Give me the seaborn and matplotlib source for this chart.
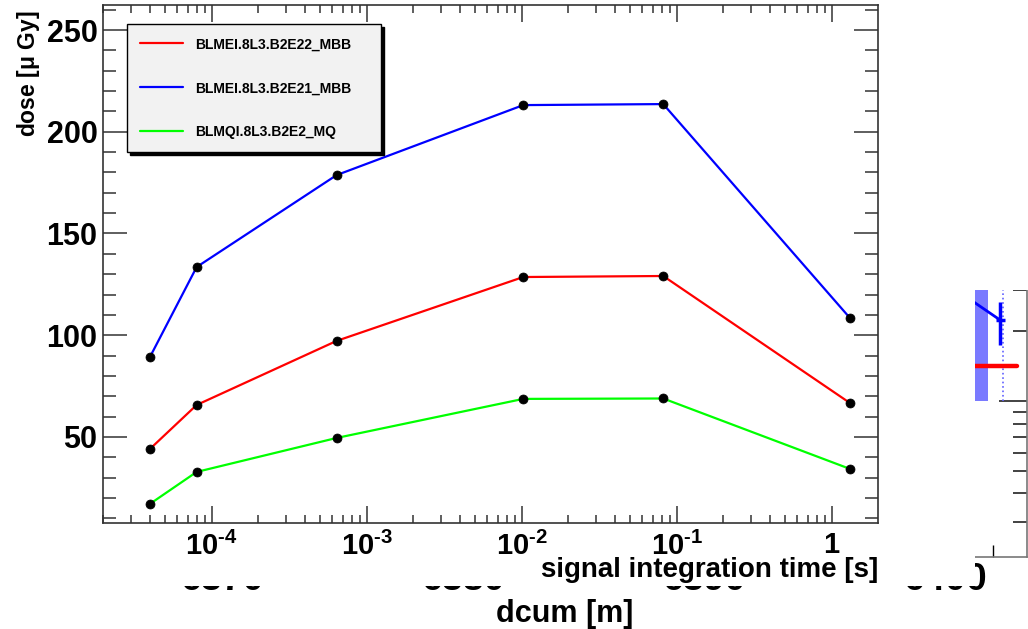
import numpy as np
import pandas as pd
import seaborn as sns
import matplotlib.pyplot as plt
from matplotlib.lines import Line2D
from matplotlib.patches import Rectangle
from matplotlib.ticker import FixedLocator, MultipleLocator, LogLocator, NullFormatter, FixedFormatter

# BLM running sums (s) and the dose seen by each monitor
times = [4e-5, 8e-5, 6.4e-4, 1.024e-2, 8.192e-2, 1.31072]
dose_e22 = [44.1, 65.7, 97.2, 128.6, 129.1, 66.7]
dose_e21 = [89.3, 133.5, 178.7, 213.1, 213.6, 108.5]
dose_e2 = [17.1, 32.8, 49.5, 68.7, 68.9, 34.3]
monitors = ['BLMEI.8L3.B2E22_MBB', 'BLMEI.8L3.B2E21_MBB', 'BLMQI.8L3.B2E2_MQ']
colors = ['#ff0000', '#0000ff', '#00ff00']

xtick_pos = [1e-4, 1e-3, 1e-2, 1e-1, 1]
xtick_labels = [r'$\mathbf{10^{\text{-4}}}$', r'$\mathbf{10^{\text{-3}}}$',
                r'$\mathbf{10^{\text{-2}}}$', r'$\mathbf{10^{\text{-1}}}$', '1']
ytick_pos = [50, 100, 150, 200, 250]

# the canvas underneath that peeks out (dcum plot)
dcum_ticks = [6370, 6380, 6390, 6400]
bg_dcum = [6401.2, 6402.3]
bg_dose = [2.67e-3, 2.23e-3]
bg_err = [[0.49e-3], [0.44e-3]]
bg_red_dcum = [6400.5, 6403.0]
bg_red_dose = [1.42e-3, 1.42e-3]
bg_band = [6400.6, 6401.8]
bg_dotted = 6402.4

sns.set_theme(style='white')
plt.rcParams['font.family'] = ['Liberation Sans', 'DejaVu Sans']
plt.rcParams['font.weight'] = 'bold'
plt.rcParams['axes.labelweight'] = 'bold'
plt.rcParams['text.color'] = 'black'
plt.rcParams['axes.labelcolor'] = 'black'
plt.rcParams['xtick.color'] = 'black'
plt.rcParams['ytick.color'] = 'black'
plt.rcParams['mathtext.fontset'] = 'custom'
plt.rcParams['mathtext.bf'] = 'Liberation Sans:bold'
plt.rcParams['mathtext.rm'] = 'Liberation Sans:bold'

W, H = 1028, 629
fig = plt.figure(figsize=(W / 100, H / 100), dpi=100)

def px_rect(l, t, r, b):
    return [l / W, 1 - b / H, (r - l) / W, (b - t) / H]

# ---------- background plot ----------
ax2 = fig.add_axes(px_rect(103, 5, 1027, 557))
ax2.set_zorder(0)
ax2.set_yscale('log')
ax2.fill_between(bg_band, 1e-3, 6e-2, color='#7a7aff', lw=0)
ax2.vlines(bg_dotted, 1e-3, 6e-2, color='#6060ff', linestyles=':', lw=1.2)
sns.lineplot(x=bg_red_dcum, y=bg_red_dose, color='#ff0000', lw=3.2, ax=ax2)
sns.lineplot(x=bg_dcum, y=bg_dose, color='#0000ff', lw=2, ax=ax2)
ax2.errorbar(bg_dcum[-1:], bg_dose[-1:], yerr=bg_err, xerr=0.2, color='#0000ff',
             lw=2.5, capsize=0, fmt='none')
ax2.set_xlim(6365.06, 6403.4)
ax2.set_ylim(2.13e-4, 5.09e-2)
ax2.xaxis.set_major_locator(FixedLocator(dcum_ticks))
ax2.xaxis.set_major_formatter(FixedFormatter([str(t) for t in dcum_ticks]))
ax2.xaxis.set_minor_locator(MultipleLocator(2))
ax2.yaxis.set_major_locator(LogLocator(base=10))
ax2.yaxis.set_minor_locator(LogLocator(base=10, subs=np.arange(2, 10)))
ax2.yaxis.set_minor_formatter(NullFormatter())
ax2.tick_params(axis='x', which='both', direction='in', bottom=True, labelsize=27, pad=3.5)
ax2.tick_params(axis='x', which='major', length=20)
ax2.tick_params(axis='x', which='minor', length=9, width=1)
ax2.tick_params(axis='y', which='both', direction='in', left=True, right=True, color='#222')
ax2.tick_params(axis='y', which='major', length=20, width=1.2)
ax2.tick_params(axis='y', which='minor', length=10, width=1.2)
for s in ax2.spines.values():
    s.set_color('#777777')
    s.set_linewidth(1.2)
ax2.set_xlabel('dcum [m]', fontsize=22, fontweight='bold')
ax2.xaxis.set_label_coords(0.5, -0.076)
ax2.set_ylabel('')

# white pads hiding most of it
fig.add_artist(Rectangle((0, 1 - 586 / H), 975 / W, 586 / H, transform=fig.transFigure,
                         facecolor='white', edgecolor='none', zorder=1))
fig.add_artist(Rectangle((975 / W, 1 - 290 / H), (W - 975) / W, 290 / H,
                         transform=fig.transFigure, facecolor='white', edgecolor='none', zorder=1))

# ---------- main plot ----------
ax = fig.add_axes(px_rect(103, 5, 878, 523))
ax.set_zorder(2)
ax.set_facecolor('white')
ax.set_xscale('log')

df = pd.DataFrame({
    'time': times * 3,
    'dose': dose_e22 + dose_e21 + dose_e2,
    'monitor': [monitors[0]] * 6 + [monitors[1]] * 6 + [monitors[2]] * 6,
})
sns.lineplot(data=df, x='time', y='dose', hue='monitor', hue_order=monitors,
             palette=dict(zip(monitors, colors)), lw=1.6, legend=False, ax=ax)
sns.scatterplot(data=df, x='time', y='dose', color='black', edgecolor='black', s=42,
                zorder=3, legend=False, ax=ax)

ax.set_xlim(10 ** -4.701, 10 ** 0.299)
ax.set_ylim(7.7, 262.3)
ax.xaxis.set_major_locator(FixedLocator(xtick_pos))
ax.xaxis.set_major_formatter(FixedFormatter(xtick_labels))
ax.xaxis.set_minor_locator(LogLocator(base=10, subs=np.arange(2, 10)))
ax.xaxis.set_minor_formatter(NullFormatter())
ax.yaxis.set_major_locator(FixedLocator(ytick_pos))
ax.yaxis.set_minor_locator(MultipleLocator(10))
ax.tick_params(axis='both', which='both', direction='in', bottom=True, left=True,
               top=True, right=True, color='#333333', width=1.1, labelcolor='black')
ax.tick_params(axis='x', which='major', length=12, labelsize=21, pad=6)
ax.tick_params(axis='x', which='minor', length=6)
ax.tick_params(axis='y', which='major', length=17, labelsize=22, pad=4)
ax.tick_params(axis='y', which='minor', length=9.5)
for lab in ax.get_yticklabels() + ax.get_xticklabels():
    lab.set_fontweight('bold')
for s in ax.spines.values():
    s.set_color('#333333')
    s.set_linewidth(1.2)

ax.set_xlabel('signal integration time [s]', fontsize=20, fontweight='bold', loc='right')
ax.xaxis.set_label_coords(1.0, -0.066)
ax.xaxis.label.set_horizontalalignment('right')
ax.set_ylabel(r'dose [$\mathbf{\mu}$ Gy]', fontsize=16.5, fontweight='bold')
ax.yaxis.set_label_coords(-0.079, 0.867)

handles = [Line2D([], [], color=c, lw=1.6) for c in colors]
leg = ax.legend(handles, monitors, loc='upper left',
                bbox_to_anchor=(0.031, 0.963 - 0.251, 0.328, 0.251), mode='expand',
                frameon=True, fancybox=False, shadow={'color': 'black', 'alpha': 1},
                edgecolor='black', facecolor='#f2f2f2', framealpha=1,
                prop={'size': 10, 'weight': 'bold'}, labelspacing=2.15,
                handlelength=3.1, handletextpad=0.85, borderpad=0.95, borderaxespad=0)
leg.get_frame().set_linewidth(1.0)

fig.savefig('out.png', dpi=100)
